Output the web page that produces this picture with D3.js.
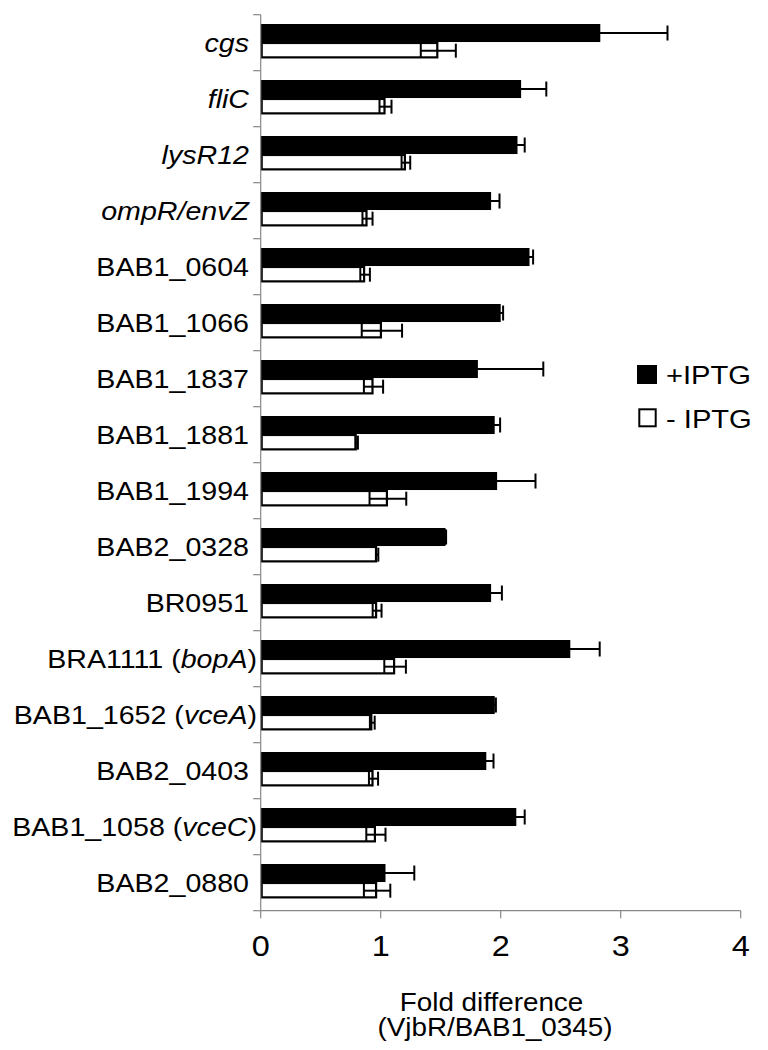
<!DOCTYPE html>
<html>
<head>
<meta charset="utf-8">
<script src="https://cdn.jsdelivr.net/npm/d3@7"></script>
<style>
  html, body { margin: 0; padding: 0; background: #fff; }
  svg { display: block; }
  text { font-family: "Liberation Sans", Arial, Helvetica, sans-serif; fill: #000; }
</style>
</head>
<body>
<svg id="chart" width="768" height="1050"></svg>
<script>
const categories = ["cgs","fliC","lysR12","ompR/envZ","BAB1_0604","BAB1_1066","BAB1_1837","BAB1_1881","BAB1_1994","BAB2_0328","BR0951","BRA1111 (bopA)","BAB1_1652 (vceA)","BAB2_0403","BAB1_1058 (vceC)","BAB2_0880"];
const italicNames = ["cgs","fliC","lysR12","ompR/envZ"];
const plusIPTG  = [2.83,2.17,2.14,1.92,2.24,2.00,1.81,1.95,1.97,1.54,1.92,2.58,1.95,1.88,2.13,1.04];
const plusErr   = [0.56,0.21,0.06,0.07,0.03,0.02,0.545,0.045,0.32,0.005,0.09,0.245,0.01,0.06,0.07,0.24];
const minusIPTG = [1.48,1.04,1.21,0.89,0.87,1.01,0.94,0.80,1.06,0.97,0.97,1.12,0.93,0.94,0.96,0.97];
const minusErr  = [0.146,0.05,0.036,0.042,0.04,0.168,0.08,0.01,0.153,0.01,0.037,0.09,0.02,0.038,0.08,0.11];
const xTicks = [0,1,2,3,4];
const seriesNames = ["+IPTG","- IPTG"];
const axisTitle = ["Fold difference","(VjbR/BAB1_0345)"];

(function(){
const svg = d3.select("#chart");
const pL = 260.7, pR = 740.7, pT = 14.7, pB = 910.7;
const x = d3.scaleLinear().domain([0,4]).range([pL,pR]);
const y = d3.scaleBand().domain(categories).range([pT,pB]).paddingInner(0).paddingOuter(0);
const bw = y.bandwidth();
const axisColor = "#888";

function stretchText(g, tx, ty, sx) {
  return g.append("text").attr("transform", `translate(${tx},${ty}) scale(${sx},1)`);
}

const data = categories.map((c,i)=>({c, p:plusIPTG[i], pe:plusErr[i], m:minusIPTG[i], me:minusErr[i]}));
const blackTop = 0.166*bw, blackH = 0.322*bw;
const whiteTop = 0.505*bw, whiteH = 0.257*bw;

const g = svg.append("g");
g.selectAll("rect.minus").data(data).enter().append("rect")
  .attr("class","minus")
  .attr("x", x(0)+1)
  .attr("y", d=>y(d.c)+whiteTop)
  .attr("width", d=>x(d.m)-x(0)-2)
  .attr("height", whiteH)
  .attr("fill","#fff").attr("stroke","#000").attr("stroke-width",2.2);
g.selectAll("rect.plus").data(data).enter().append("rect")
  .attr("class","plus")
  .attr("x", x(0))
  .attr("y", d=>y(d.c)+blackTop)
  .attr("width", d=>x(d.p)-x(0))
  .attr("height", blackH)
  .attr("fill","#000");

function errBars(sel, valKey, errKey, cy, capH) {
  sel.each(function(d){
    const gg = d3.select(this);
    const yc = y(d.c)+cy;
    const x1 = x(d[valKey]-d[errKey]), x2 = x(d[valKey]+d[errKey]);
    gg.append("line").attr("x1",x1).attr("x2",x2).attr("y1",yc).attr("y2",yc)
      .attr("stroke","#000").attr("stroke-width",2);
    [x1,x2].forEach(xx=>gg.append("line").attr("x1",xx).attr("x2",xx)
      .attr("y1",yc-capH/2).attr("y2",yc+capH/2).attr("stroke","#000").attr("stroke-width",2));
  });
}
errBars(g.selectAll("g.ep").data(data).enter().append("g").attr("class","ep"), "p","pe", blackTop+blackH/2, 15);
errBars(g.selectAll("g.em").data(data).enter().append("g").attr("class","em"), "m","me", whiteTop+whiteH/2+0.5, 14);

svg.append("line").attr("x1",pL).attr("x2",pL).attr("y1",pT).attr("y2",pB)
  .attr("stroke",axisColor).attr("stroke-width",1.2);
const boundaries = categories.map(c=>y(c)).concat([pB]);
svg.selectAll("line.ytick").data(boundaries).enter().append("line")
  .attr("x1",pL-7.5).attr("x2",pL).attr("y1",d=>d).attr("y2",d=>d)
  .attr("stroke",axisColor).attr("stroke-width",1.2);

svg.append("line").attr("x1",pL).attr("x2",pR).attr("y1",pB).attr("y2",pB)
  .attr("stroke",axisColor).attr("stroke-width",1.2);
svg.selectAll("line.xtick").data(xTicks).enter().append("line")
  .attr("x1",d=>x(d)).attr("x2",d=>x(d)).attr("y1",pB).attr("y2",pB+7.5)
  .attr("stroke",axisColor).attr("stroke-width",1.2);
xTicks.forEach(t=>{
  stretchText(svg, x(t), 956, 1.08).attr("text-anchor","middle")
    .attr("font-size",30).text(String(t));
});

categories.forEach(c=>{
  const hasParen = /\)$/.test(c);
  const t = stretchText(svg, hasParen ? 257 : 249, y(c)+bw/2+9.2, 1.1).attr("text-anchor","end").attr("font-size",26);
  if (italicNames.includes(c)) {
    t.append("tspan").attr("font-style","italic").text(c);
  } else {
    const m = c.match(/^(.*\()(.*)(\))$/);
    if (m) {
      t.append("tspan").text(m[1]);
      t.append("tspan").attr("font-style","italic").text(m[2]);
      t.append("tspan").text(m[3]);
    } else {
      t.text(c);
    }
  }
});

stretchText(svg, 491.5, 1010.5, 1.05).attr("text-anchor","middle").attr("font-size",26.5).text(axisTitle[0]);
stretchText(svg, 495, 1035.5, 1.05).attr("text-anchor","middle").attr("font-size",26.5).text(axisTitle[1]);

svg.append("rect").attr("x",637).attr("y",365).attr("width",20).attr("height",19).attr("fill","#000");
stretchText(svg, 666, 384, 1.1).attr("font-size",26.5).text(seriesNames[0]);
svg.append("rect").attr("x",639.3).attr("y",409.3).attr("width",16.4).attr("height",17)
  .attr("fill","#fff").attr("stroke","#000").attr("stroke-width",2);
stretchText(svg, 666, 427.5, 1.1).attr("font-size",26.5).text(seriesNames[1]);
})();
</script>
</body>
</html>
